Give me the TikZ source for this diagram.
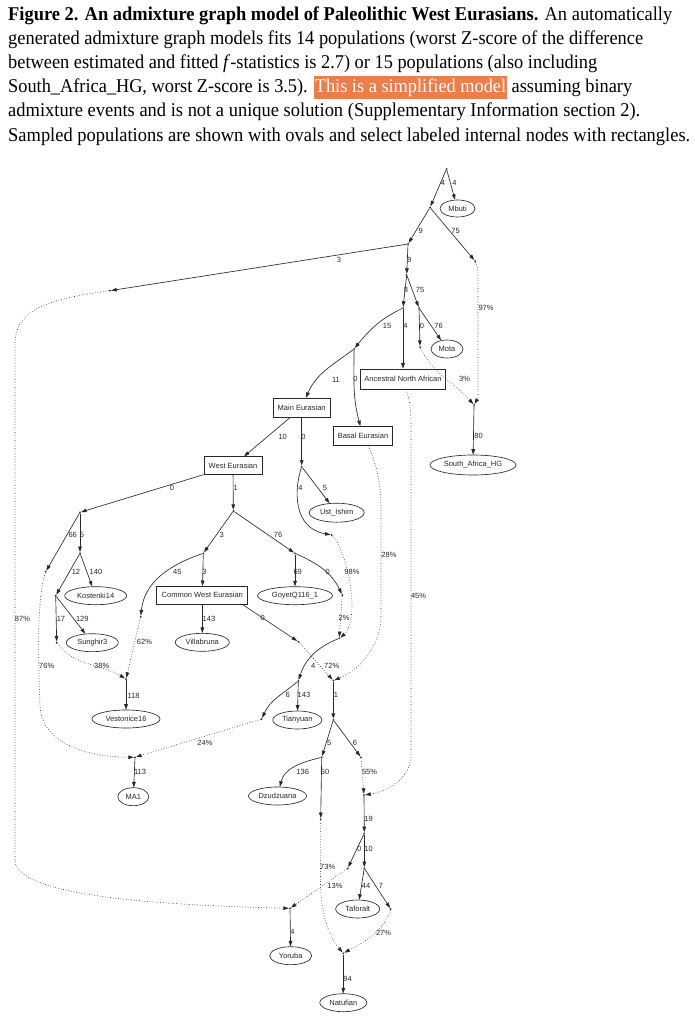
\documentclass[tikz,border=0pt]{standalone}
\usepackage{fontspec}
\setmainfont{Liberation Serif}
\newfontfamily\gfont{Liberation Sans}
\usetikzlibrary{arrows.meta,shapes.geometric}
\definecolor{hl}{RGB}{237,125,75}
\definecolor{ink}{RGB}{40,40,40}
\setlength{\fboxsep}{1pt}
\newcommand{\capfs}{\fontsize{19.5}{23}\selectfont}
\newcommand{\gfs}{\gfont\fontsize{7.5}{9}\selectfont}
\begin{document}
\begin{tikzpicture}[x=1pt,y=-1pt,
  dotpt/.style={circle,fill=ink,inner sep=0pt,minimum size=2pt},
  pop/.style={ellipse,draw=ink,line width=0.65pt,inner sep=0pt,minimum height=18pt,font=\gfs,text=ink},
  lbox/.style={rectangle,draw=ink,line width=0.65pt,inner sep=0pt,minimum height=19pt,font=\gfs,text=ink},
  conn/.style={draw=ink,line width=0.65pt,-{Triangle[length=5.5pt,width=3.6pt]}},
  adm/.style={conn,dotted},
  lab/.style={font=\gfs,text=ink,inner sep=0pt},
  capline/.style={anchor=base west,inner sep=0pt,font=\capfs}
]
\useasboundingbox (0,0) rectangle (694,1022);
\fill[white] (0,0) rectangle (694,1022);

% ---------- caption ----------
\node[capline] (c1) at (8,21) {\resizebox{664pt}{\height}{\textbf{Figure 2. An admixture graph model of Paleolithic West Eurasians.} An automatically}};
\node[capline] (c2) at (8,45) {\resizebox{635pt}{\height}{generated admixture graph models fits 14 populations (worst Z-score of the difference}};
\node[capline] (c3) at (8,69) {\resizebox{589pt}{\height}{between estimated and fitted \textit{f}-statistics is 2.7) or 15 populations (also including}};
\node[capline] (c4) at (8,93) {\resizebox{624pt}{\height}{South\_Africa\_HG, worst Z-score is 3.5). \colorbox{hl}{\rule[-5.5pt]{0pt}{21.5pt}\textcolor{white}{This is a simplified model}} assuming binary}};
\node[capline] (c5) at (8,117) {\resizebox{632pt}{\height}{admixture events and is not a unique solution (Supplementary Information section 2).}};
\node[capline] (c6) at (8,141) {\resizebox{682pt}{\height}{Sampled populations are shown with ovals and select labeled internal nodes with rectangles.}};

% ---------- internal points ----------
\node[dotpt] (r0) at (446.5,169) {};
\node[dotpt] (n1) at (430,207.5) {};
\node[dotpt] (n2) at (408,244) {};
\node[dotpt] (n3) at (475,261) {};
\node[dotpt] (l3) at (110,290.7) {};
\node[dotpt] (n4) at (406.7,275) {};
\node[dotpt] (n5) at (403,308) {};
\node[dotpt] (n6) at (419,308) {};
\node[dotpt] (n7) at (354,349) {};
\node[dotpt] (n8) at (420,347) {};
\node[dotpt] (nsa) at (474,405) {};
\node[dotpt] (n9) at (301.7,466.7) {};
\node[dotpt] (n10) at (331.7,535) {};
\node[dotpt] (n11) at (80,512.3) {};
\node[dotpt] (n12) at (233.3,511) {};
\node[dotpt] (n13) at (203.3,553.3) {};
\node[dotpt] (n14) at (295,553.3) {};
\node[dotpt] (n23) at (45.7,571.7) {};
\node[dotpt] (n24) at (80,553.3) {};
\node[dotpt] (n25) at (55.7,595.7) {};
\node[dotpt] (n16) at (342.3,595) {};
\node[dotpt] (n15) at (140.7,616.7) {};
\node[dotpt] (n17) at (298.3,641.7) {};
\node[dotpt] (n18) at (339.3,638.3) {};
\node[dotpt] (n26) at (56.7,642.7) {};
\node[dotpt] (n27) at (126,679) {};
\node[dotpt] (n19) at (298.3,681) {};
\node[dotpt] (n21) at (333.3,680.5) {};
\node[dotpt] (n20) at (261.7,719) {};
\node[dotpt] (n28) at (333.3,720) {};
\node[dotpt] (n22) at (135,757.3) {};
\node[dotpt] (n29) at (321.7,757.3) {};
\node[dotpt] (n31) at (361,757.3) {};
\node[dotpt] (n33) at (364,795) {};
\node[dotpt] (n32) at (320.7,819.3) {};
\node[dotpt] (n34) at (364.3,833.3) {};
\node[dotpt] (n35) at (347.7,868.3) {};
\node[dotpt] (n36) at (364.3,868.3) {};
\node[dotpt] (n30) at (290,908.3) {};
\node[dotpt] (n37) at (390.7,909) {};
\node[dotpt] (n38) at (343.3,953.3) {};

% ---------- populations ----------
\node[pop,minimum width=35pt,minimum height=17pt] (mbuti) at (457.5,208.5) {Mbuti};
\node[pop,minimum width=32pt] (mota) at (447,349) {Mota};
\node[pop,minimum width=86pt,minimum height=20pt] (sahg) at (473,465) {South\_Africa\_HG};
\node[pop,minimum width=55pt,minimum height=19pt] (ust) at (336.7,512.7) {Ust\_Ishim};
\node[pop,minimum width=62pt] (kost) at (95.7,595.7) {Kostenki14};
\node[pop,minimum width=75pt] (goyet) at (295,595.7) {GoyetQ116\_1};
\node[pop,minimum width=52pt] (sung) at (92.3,642.7) {Sunghir3};
\node[pop,minimum width=54pt] (villa) at (202.3,642.3) {Villabruna};
\node[pop,minimum width=68pt] (vest) at (126,719) {Vestonice16};
\node[pop,minimum width=49pt] (tian) at (297.3,720) {Tianyuan};
\node[pop,minimum width=31pt] (ma1) at (133.3,796.7) {MA1};
\node[pop,minimum width=58pt] (dzu) at (277.5,796) {Dzudzuana};
\node[pop,minimum width=44pt] (tafo) at (357.7,909) {Taforalt};
\node[pop,minimum width=42pt] (yoru) at (290.7,955.7) {Yoruba};
\node[pop,minimum width=47pt] (natu) at (343.3,1002.7) {Natufian};

% ---------- labelled internal nodes ----------
\node[lbox,minimum width=85pt,minimum height=20pt] (ana) at (403,379) {Ancestral North African};
\node[lbox,minimum width=57pt] (main) at (301.7,407.7) {Main Eurasian};
\node[lbox,minimum width=59pt] (basal) at (363,436) {Basal Eurasian};
\node[lbox,minimum width=58pt,minimum height=18pt] (weu) at (233,465.7) {West Eurasian};
\node[lbox,minimum width=91pt,minimum height=18pt] (cwe) at (202.3,595.3) {Common West Eurasian};

% ---------- solid edges ----------
\draw[conn] (r0) -- (n1);
\draw[conn] (r0) -- (mbuti);
\draw[conn] (n1) -- (n2);
\draw[conn] (n1) -- (n3);
\draw[conn] (n2) -- (l3);
\draw[conn] (n2) -- (n4);
\draw[conn] (n4) -- (n5);
\draw[conn] (n4) -- (n6);
\draw[conn] (n5) to[out=206,in=51] (n7);
\draw[conn] (n5) -- (ana);
\draw[conn] (n6) -- (n8);
\draw[conn] (n6) -- (mota);
\draw[conn] (n7) to[out=217,in=67] (main);
\draw[conn] (n7) to[out=-90,in=105] (basal);
\draw[conn] (nsa) -- (sahg);
\draw[conn] (main) -- (weu);
\draw[conn] (main) -- (n9);
\draw[conn] (n9) -- (ust);
\draw[conn] (n9) .. controls (294,490) and (293,528) .. (n10);
\draw[conn] (weu) -- (n11);
\draw[conn] (weu) -- (n12);
\draw[conn] (n11) -- (n23);
\draw[conn] (n11) -- (n24);
\draw[conn] (n24) -- (n25);
\draw[conn] (n24) -- (kost);
\draw[conn] (n25) -- (n26);
\draw[conn] (n25) -- (sung);
\draw[conn] (n12) -- (n13);
\draw[conn] (n12) -- (n14);
\draw[conn] (n13) to[out=199,in=84] (n15);
\draw[conn] (n13) -- (cwe);
\draw[conn] (n14) -- (goyet);
\draw[conn] (n14) to[out=-24,in=116] (n16);
\draw[conn] (cwe) -- (villa);
\draw[conn] (cwe.-13) -- (n17);
\draw[conn] (n18) to[out=202,in=72] (n19);
\draw[conn] (n19) to[out=220,in=66] (n20);
\draw[conn] (n19) -- (tian);
\draw[conn] (n21) -- (n28);
\draw[conn] (n27) -- (vest);
\draw[conn] (n22) -- (ma1);
\draw[conn] (n28) -- (n29);
\draw[conn] (n28) -- (n31);
\draw[conn] (n29) to[out=194,in=76] (dzu);
\draw[conn] (n29) -- (n32);
\draw[conn] (n33) -- (n34);
\draw[conn] (n34) -- (n35);
\draw[conn] (n34) -- (n36);
\draw[conn] (n36) -- (tafo);
\draw[conn] (n36) -- (n37);
\draw[conn] (n30) -- (yoru);
\draw[conn] (n38) -- (natu);

% ---------- admixture (dotted) edges ----------
\draw[adm] (n3) .. controls (478,268) .. (478,285) -- (478,390) .. controls (478,398) .. (nsa);
\draw[adm] (n8) to[out=-64,in=131] (nsa);
\draw[adm] (l3) .. controls (40,300) and (15,312) .. (15,345) -- (15,860) .. controls (15,895) and (150,905) .. (n30);
\draw[adm] ([xshift=5pt]basal.south) .. controls (375,460) and (381,480) .. (381,510) -- (381,615) .. controls (381,650) and (355,672) .. (n21);
\draw[adm] ([xshift=3pt]ana.south) .. controls (410,400) and (411,410) .. (411,430) -- (411,755) .. controls (411,780) and (385,792) .. (n33);
\draw[adm] (n10) .. controls (342,545) and (352,580) .. (352,605) .. controls (352,625) and (346,633) .. (n18);
\draw[adm] (n16) -- (n18);
\draw[adm] (n17) -- (n21);
\draw[adm] (n26) to[out=-52,in=149] (n27);
\draw[adm] (n15) -- (n27);
\draw[adm] (n23) .. controls (37,600) and (38,650) .. (40,705) .. controls (41,745) and (90,757) .. (n22);
\draw[adm] (n20) -- (n22);
\draw[adm] (n31) -- (n33);
\draw[adm] (n32) -- (320.5,880) .. controls (320.5,920) and (332,940) .. (n38);
\draw[adm] (n35) -- (n30);
\draw[adm] (n37) to[out=250,in=29] (n38);

% ---------- edge labels ----------
\node[lab] (t01) at (443,183) {4};
\node[lab] (t02) at (454.5,183) {4};
\node[lab] (t03) at (420.7,230.7) {9};
\node[lab] (t04) at (455.5,230.7) {75};
\node[lab] (t05) at (339,260) {3};
\node[lab] (t06) at (409.5,260) {9};
\node[lab] (t07) at (406,290) {8};
\node[lab] (t08) at (420,290) {75};
\node[lab] (t09) at (387,326) {15};
\node[lab] (t10) at (405.5,326) {4};
\node[lab] (t11) at (422,326) {0};
\node[lab] (t12) at (438.5,326) {76};
\node[lab] (t13) at (486,308) {97\%};
\node[lab] (t14) at (464.5,379) {3\%};
\node[lab] (t15) at (336,380) {11};
\node[lab] (t16) at (355.5,379) {0};
\node[lab] (t17) at (478.5,436) {80};
\node[lab] (t18) at (282.7,436.7) {10};
\node[lab] (t19) at (303.5,436.7) {0};
\node[lab] (t20) at (300.5,488) {4};
\node[lab] (t21) at (325,488) {5};
\node[lab] (t22) at (172,488) {0};
\node[lab] (t23) at (235.5,488) {1};
\node[lab] (t24) at (389,555) {28\%};
\node[lab] (t25) at (418.5,595.7) {45\%};
\node[lab] (t26) at (72.7,535) {66};
\node[lab] (t27) at (82,535) {5};
\node[lab] (t28) at (221.7,535) {3};
\node[lab] (t29) at (278,535) {76};
\node[lab] (t30) at (76,571.7) {12};
\node[lab] (t31) at (96,571.7) {140};
\node[lab] (t32) at (177.3,571.7) {45};
\node[lab] (t33) at (204.5,571.7) {3};
\node[lab] (t34) at (297.7,571.7) {69};
\node[lab] (t35) at (327.7,571.7) {0};
\node[lab] (t36) at (352,571.7) {98\%};
\node[lab] (t37) at (22.5,619) {87\%};
\node[lab] (t38) at (61,619) {17};
\node[lab] (t39) at (82.3,619) {129};
\node[lab] (t40) at (144.5,642.3) {62\%};
\node[lab] (t41) at (209,619) {143};
\node[lab] (t42) at (262.7,618.3) {0};
\node[lab] (t43) at (344,618.3) {2\%};
\node[lab] (t44) at (46.7,665.7) {76\%};
\node[lab] (t45) at (101.7,665.7) {38\%};
\node[lab] (t46) at (313.3,665.7) {4};
\node[lab] (t47) at (331.7,665.7) {72\%};
\node[lab] (t48) at (133.5,695.7) {118};
\node[lab] (t49) at (287.7,695) {6};
\node[lab] (t50) at (304,695) {143};
\node[lab] (t51) at (336,695) {1};
\node[lab] (t52) at (205,742.7) {24\%};
\node[lab] (t53) at (329.3,742.7) {5};
\node[lab] (t54) at (355,742.7) {6};
\node[lab] (t55) at (140,772.3) {113};
\node[lab] (t56) at (302.7,772.3) {136};
\node[lab] (t57) at (325,772.3) {50};
\node[lab] (t58) at (369.5,772.3) {55\%};
\node[lab] (t59) at (368.5,819.3) {19};
\node[lab] (t60) at (359.3,849.3) {0};
\node[lab] (t61) at (368.5,849.3) {10};
\node[lab] (t62) at (327.7,867.3) {73\%};
\node[lab] (t63) at (335,885.7) {13\%};
\node[lab] (t64) at (366,885.7) {44};
\node[lab] (t65) at (381,885.7) {7};
\node[lab] (t66) at (383.5,932.7) {27\%};
\node[lab] (t67) at (292.5,932.3) {4};
\node[lab] (t68) at (347.5,979.3) {94};
\end{tikzpicture}
\end{document}
